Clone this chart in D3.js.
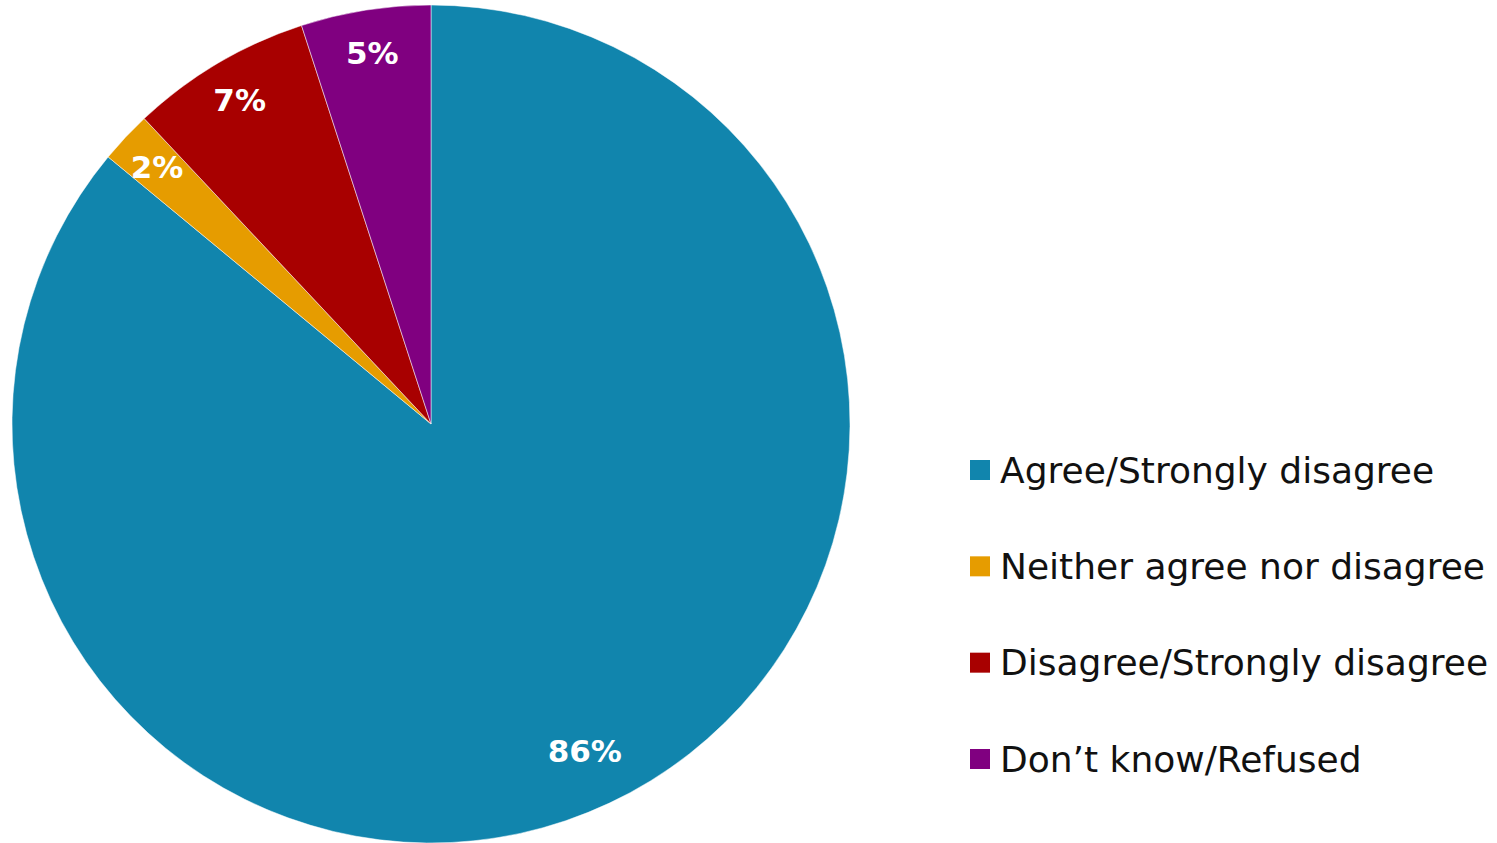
<!DOCTYPE html>
<html>
<head>
<meta charset="utf-8">
<script src="https://cdn.jsdelivr.net/npm/d3@7"></script>
<style>
  html, body { margin: 0; padding: 0; background: #ffffff; }
  svg { display: block; }
</style>
</head>
<body>
<svg id="chart" width="1497" height="843"></svg>
<script>
// Survey response shares (percent)
const categories = [
  "Agree/Strongly disagree",
  "Neither agree nor disagree",
  "Disagree/Strongly disagree",
  "Don\u2019t know/Refused"
];
const values = [86, 2, 7, 5];
const colors = ["#1185AD", "#E69C00", "#A80000", "#800080"];

const data = categories.map((c, i) => ({ category: c, value: values[i], color: colors[i] }));

const width = 1497, height = 843;
const cx = 431, cy = 424, radius = 419;

const svg = d3.select("#chart");
const g = svg.append("g").attr("transform", `translate(${cx},${cy})`);

const pie = d3.pie().value(d => d.value).sort(null);
const arc = d3.arc().innerRadius(0).outerRadius(radius);

// Labels sit near the rim; the dominant slice's label is pulled a little further in
const labelRadius = d => (d.endAngle - d.startAngle) > Math.PI ? radius * 0.862 : radius * 0.897;
const labelPos = d => {
  const r = labelRadius(d);
  return d3.arc().innerRadius(r).outerRadius(r).centroid(d);
};

const arcs = pie(data);

g.selectAll("path.slice")
  .data(arcs)
  .join("path")
  .attr("class", "slice")
  .attr("d", arc)
  .attr("fill", d => d.data.color)
  .attr("stroke", "#ffffff")
  .attr("stroke-width", 0.5);

g.selectAll("text.pct")
  .data(arcs)
  .join("text")
  .attr("class", "pct")
  .attr("transform", d => `translate(${labelPos(d)})`)
  .attr("text-anchor", "middle")
  .attr("dominant-baseline", "central")
  .attr("fill", "#ffffff")
  .attr("font-family", "'DejaVu Sans', sans-serif")
  .attr("font-weight", "bold")
  .attr("font-size", 31)
  .text(d => d.data.value + "%");

// Legend
const legendScale = d3.scalePoint()
  .domain(categories)
  .range([470, 759]);

const legend = svg.append("g");
const item = legend.selectAll("g.item")
  .data(data)
  .join("g")
  .attr("class", "item")
  .attr("transform", d => `translate(970,${legendScale(d.category)})`);

item.append("rect")
  .attr("x", 0)
  .attr("y", -10)
  .attr("width", 20)
  .attr("height", 20)
  .attr("fill", d => d.color);

item.append("text")
  .attr("x", 30)
  .attr("y", 0)
  .attr("dominant-baseline", "central")
  .attr("fill", "#111111")
  .attr("font-family", "'DejaVu Sans', sans-serif")
  .attr("font-size", 36)
  .text(d => d.category);
</script>
</body>
</html>
